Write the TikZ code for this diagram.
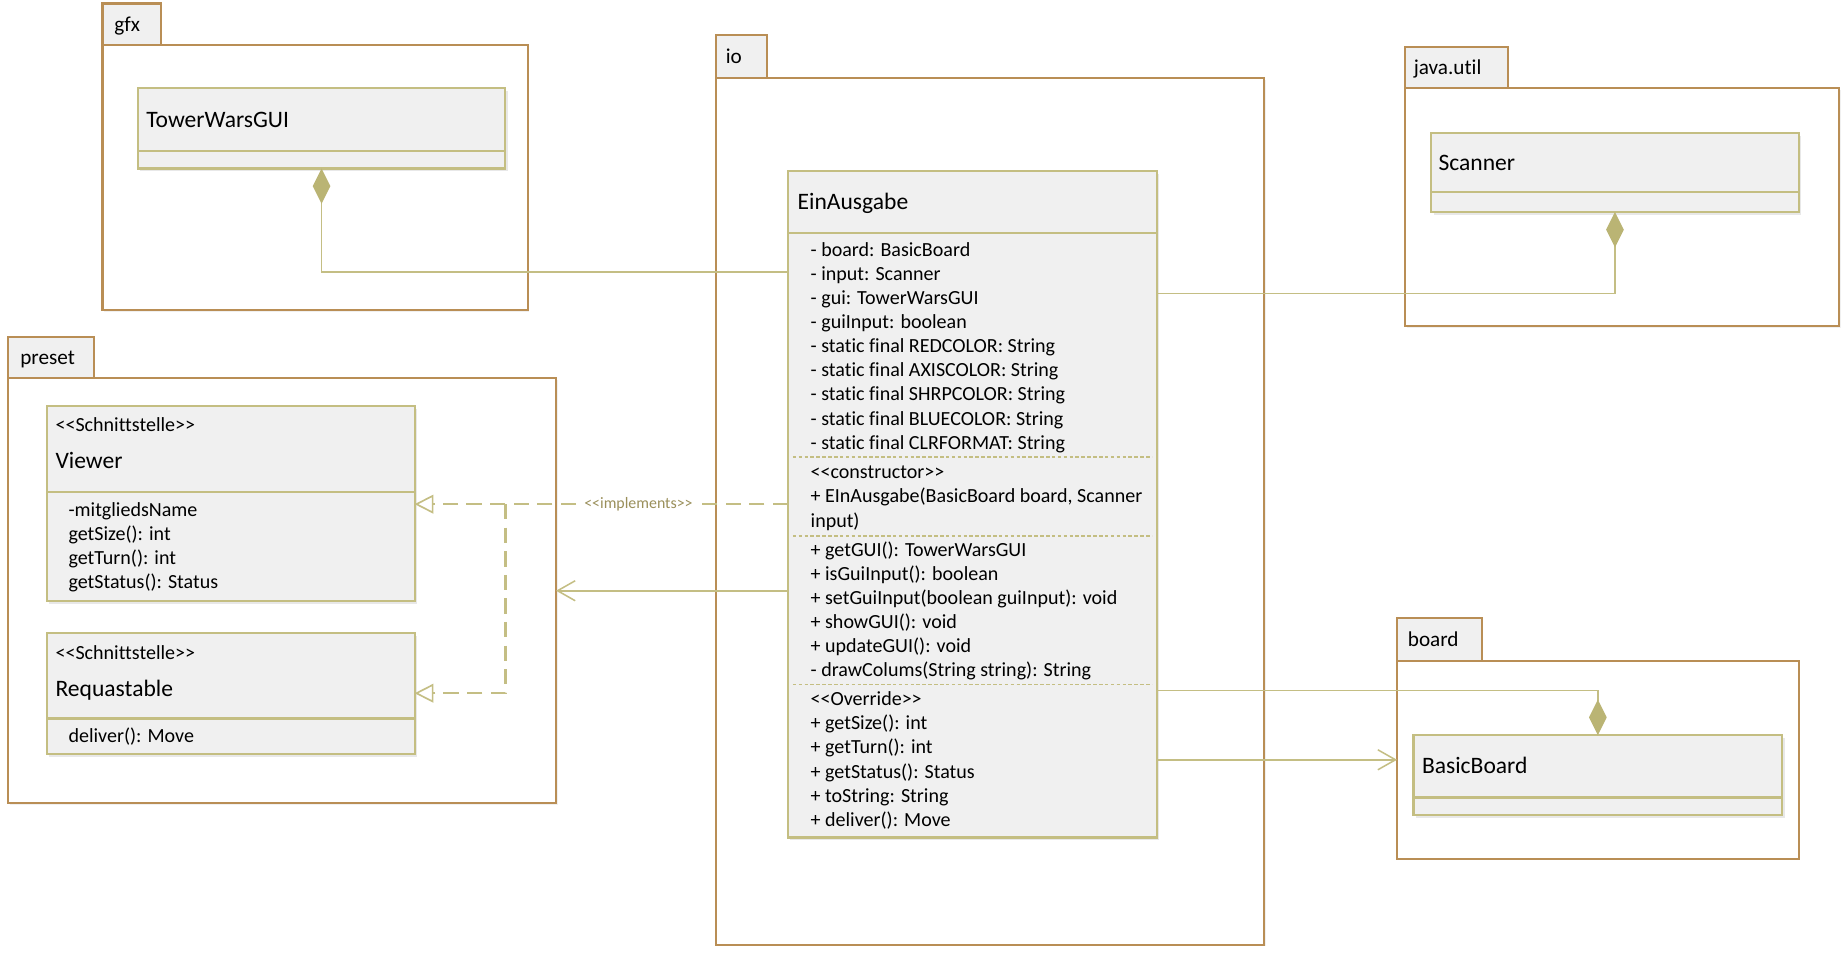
\documentclass[tikz,border=0pt]{standalone}
\usepackage{fontspec}
\setmainfont{Carlito}[Ligatures={TeXOff,NoCommon}]
\usetikzlibrary{arrows.meta,calc,shadows}
\definecolor{pkgc}{HTML}{B98E55}
\definecolor{clsc}{HTML}{C4BE82}
\definecolor{conc}{HTML}{C4BE84}
\definecolor{fillc}{HTML}{F0F0F0}
\definecolor{diac}{HTML}{BAB474}
\definecolor{lblc}{HTML}{9A8F5A}
\tikzset{
  pkgbody/.style={draw=pkgc, line width=1.8pt, fill=white, inner sep=0pt, outer sep=0pt, anchor=north west,
     drop shadow={shadow xshift=1.5pt, shadow yshift=-1.5pt, opacity=0.12}},
  pkgtab/.style={draw=pkgc, line width=1.8pt, fill=fillc, inner sep=0pt, outer sep=0pt, anchor=north west},
  clsbox/.style={draw=clsc, line width=1.8pt, fill=fillc, inner sep=0pt, outer sep=0pt, anchor=north west,
     drop shadow={shadow xshift=2pt, shadow yshift=-2.5pt, opacity=0.18}},
  pkglabel/.style={anchor=base west, inner sep=0pt, font=\fontsize{18}{21}\selectfont},
  clsname/.style={anchor=base west, inner sep=0pt, font=\fontsize{20}{24}\selectfont},
  member/.style={anchor=base west, inner sep=0pt, font=\fontsize{17}{20}\selectfont},
  divider/.style={draw=clsc, line width=1.8pt},
  sepline/.style={draw=clsc, line width=1.2pt, dash pattern=on 3pt off 2pt},
  conn/.style={draw=conc, line width=1.3pt},
  comp/.style={conn, {Diamond[length=30pt, width=15pt, color=diac, fill=diac]}-},
  assoc/.style={conn, -{Straight Barb[length=15pt, width=17pt, line width=1.3pt]}},
  realize/.style={draw=conc, line width=2pt, dash pattern=on 13pt off 7pt},
  realtip/.style={realize, -{Triangle[open, length=16pt, width=16pt, line width=1.4pt, fill=white]}},
}
\begin{document}
\begin{tikzpicture}[x=1pt,y=-1pt]
\useasboundingbox (0,0) rectangle (1568,812);
% ---------- packages ----------
\node[pkgbody, minimum width=361pt, minimum height=225pt] (gfx) at (87,38) {};
\node[pkgtab, minimum width=50pt, minimum height=35pt] (gfxtab) at (87,3) {};
\node[pkglabel] (gfxlbl) at ($(gfxtab.west)+(10,6)$) {gfx};

\node[pkgbody, minimum width=465pt, minimum height=736pt] (io) at (608,66) {};
\node[pkgtab, minimum width=43pt, minimum height=36pt] (iotab) at (608,30) {};
\node[pkglabel] (iolbl) at ($(iotab.west)+(8,6)$) {io};

\node[pkgbody, minimum width=368pt, minimum height=202pt] (util) at (1193,75) {};
\node[pkgtab, minimum width=87pt, minimum height=35pt] (utiltab) at (1193,40) {};
\node[pkglabel] (utillbl) at ($(utiltab.west)+(7,6)$) {java.util};

\node[pkgbody, minimum width=465pt, minimum height=361pt] (preset) at (7,321) {};
\node[pkgtab, minimum width=73pt, minimum height=35pt] (presettab) at (7,286) {};
\node[pkglabel] (presetlbl) at ($(presettab.west)+(10,6)$) {preset};

\node[pkgbody, minimum width=341pt, minimum height=168pt] (board) at (1186,561) {};
\node[pkgtab, minimum width=72pt, minimum height=36pt] (boardtab) at (1186,525) {};
\node[pkglabel] (boardlbl) at ($(boardtab.west)+(9,6)$) {board};

% ---------- classes ----------
\node[clsbox, minimum width=312pt, minimum height=68pt] (tw) at (117,75) {};
\draw[divider] ($(tw.north west)+(0,53)$) -- ($(tw.north east)+(0,53)$);
\node[clsname] (twname) at (124,108) {TowerWarsGUI};

\node[clsbox, minimum width=313pt, minimum height=566pt] (ein) at (669,145) {};
\draw[divider] ($(ein.north west)+(0,53)$) -- ($(ein.north east)+(0,53)$);
\node[clsname] (einname) at (677,178) {EinAusgabe};
\draw[sepline] ($(ein.north west)+(4,243)$) -- ($(ein.north east)+(-4,243)$);
\draw[sepline] ($(ein.north west)+(4,310)$) -- ($(ein.north east)+(-4,310)$);
\draw[sepline] ($(ein.north west)+(4,436)$) -- ($(ein.north east)+(-4,436)$);
\foreach \t [count=\i, evaluate=\i as \yy using 197.6+20.4*\i] in
  {- board: BasicBoard, - input: Scanner, - gui: TowerWarsGUI, - guiInput: boolean,
   - static final REDCOLOR: String, - static final AXISCOLOR: String,
   - static final SHRPCOLOR: String, - static final BLUECOLOR: String,
   - static final CLRFORMAT: String}
  \node[member] (a\i) at (688,\yy) {\t};
\foreach \t [count=\i, evaluate=\i as \yy using 386+20.5*\i] in
  {<<constructor>>, {+ EInAusgabe(BasicBoard board, Scanner}, input)}
  \node[member] (k\i) at (688,\yy) {\t};
\foreach \t [count=\i, evaluate=\i as \yy using 452.2+20.3*\i] in
  {+ getGUI(): TowerWarsGUI, + isGuiInput(): boolean, + setGuiInput(boolean guiInput): void,
   + showGUI(): void, + updateGUI(): void, - drawColums(String string): String}
  \node[member] (m\i) at (688,\yy) {\t};
\foreach \t [count=\i, evaluate=\i as \yy using 578.5+20.5*\i] in
  {<<Override>>, + getSize(): int, + getTurn(): int, + getStatus(): Status,
   + toString: String, + deliver(): Move}
  \node[member] (o\i) at (688,\yy) {\t};

\node[clsbox, minimum width=312pt, minimum height=67pt] (sc) at (1215,113) {};
\draw[divider] ($(sc.north west)+(0,50)$) -- ($(sc.north east)+(0,50)$);
\node[clsname] (scname) at (1221,144.5) {Scanner};

\node[clsbox, minimum width=313pt, minimum height=68pt] (bb) at (1200,624) {};
\draw[divider] ($(bb.north west)+(0,53)$) -- ($(bb.north east)+(0,53)$);
\node[clsname] (bbname) at (1207,657) {BasicBoard};

\node[clsbox, minimum width=312pt, minimum height=165pt] (viewer) at (40,345) {};
\draw[divider] ($(viewer.north west)+(0,73)$) -- ($(viewer.north east)+(0,73)$);
\node[member] (vst) at (47,366.5) {<<Schnittstelle>>};
\node[clsname] (vname) at (47,397.5) {Viewer};
\foreach \t [count=\i, evaluate=\i as \yy using 418.1+20.4*\i] in
  {-mitgliedsName, getSize(): int, getTurn(): int, getStatus(): Status}
  \node[member] (v\i) at (58,\yy) {\t};

\node[clsbox, minimum width=312pt, minimum height=103pt] (req) at (40,537) {};
\draw[divider] ($(req.north west)+(0,73)$) -- ($(req.north east)+(0,73)$);
\node[member] (rst) at (47,559.5) {<<Schnittstelle>>};
\node[clsname] (rname) at (47,591) {Requastable};
\node[member] (r1) at (58,630.5) {deliver(): Move};

% ---------- connectors ----------
\draw[comp] (tw.south) |- ($(ein.north west)+(0,86)$);
\draw[comp] (sc.south) |- ($(ein.north east)+(0,104)$);
\draw[comp] (bb.north) |- ($(ein.north east)+(0,441)$);
\draw[assoc] ($(ein.north east)+(0,500)$) -- (board.west);
\draw[assoc] (ein.west |- preset.east) -- (preset.east);
\draw[realtip] (ein.west) -- (ein.west -| viewer.east);
\coordinate (split) at ($(ein.west -| viewer.east)+(77,0)$);
\draw[realtip] (split) |- (req.east);
\node[fill=white, text=lblc, font=\fontsize{13.5}{15}\selectfont, inner sep=2pt] (impl) at (542,428) {<<implements>>};
\end{tikzpicture}
\end{document}
